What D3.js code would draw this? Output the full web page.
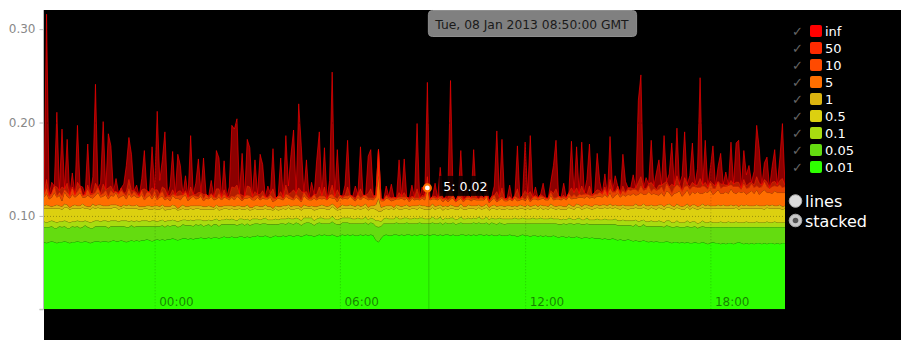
<!DOCTYPE html>
<html><head><meta charset="utf-8">
<script src="https://cdn.jsdelivr.net/npm/d3@7"></script>
<style>
html,body{margin:0;padding:0;background:#fff;}
svg{display:block;font-family:"DejaVu Sans",sans-serif;}
</style></head><body>
<svg id="c" width="901" height="347"></svg>
<script>
// ---------- DATA ----------
const startTime = "2013-01-07T20:25:00Z";
const stepMinutes = 5;
const seriesNames = ["0.01","0.05","0.1","0.5","1","5","10","50","inf"];
const seriesColors = ["#2eff00","#64dc10","#a8dc10","#dcd010","#dcb410","#ff6e00","#ff4a00","#ff2a00","#ff0000"];
const legendOrder = ["inf","50","10","5","1","0.5","0.1","0.05","0.01"];
const yTicks = [0, 0.1, 0.2, 0.3];
const modeLabels = ["lines","stacked"];
const hoverIndex = 149;
const hoverSeries = "5";
// values in thousandths, one per 5 minutes
const v001 = [
72,71,72,73,72,71,72,72,73,72,71,72,
72,73,72,72,73,72,71,72,73,73,72,73,
73,72,73,74,73,73,74,73,72,73,74,73,
74,73,74,74,75,74,73,74,75,74,75,74,
75,75,76,75,74,75,76,76,75,76,75,76,
76,77,76,76,77,76,77,77,76,77,78,77,
77,78,77,77,78,78,77,78,77,78,78,79,
78,78,79,78,77,78,79,78,78,79,78,79,
79,78,79,79,78,79,80,79,79,78,79,80,
79,80,79,79,80,79,78,79,80,79,80,79,
80,79,79,80,79,80,79,80,79,74,72,76,
79,80,79,79,80,80,79,80,79,80,80,79,
80,79,80,80,79,80,79,80,80,79,80,79,
80,80,79,80,79,79,80,80,79,80,79,80,
79,80,80,79,80,79,80,79,79,80,79,79,
79,80,79,79,78,79,80,79,79,78,79,79,
78,79,78,79,78,78,79,78,77,78,78,77,
78,77,77,78,77,76,77,77,76,77,76,76,
76,75,76,75,75,76,75,74,75,74,74,75,
74,73,74,73,73,74,73,72,73,72,73,72,
72,72,73,72,71,72,72,71,72,71,72,71,
71,72,71,71,72,71,70,71,72,71,71,70,
71,70,71,71,70,71,72,71,70,71,70,71,
70,71,71,70,71,70,71,71,70,71,70,71,
71];
const v005 = [
16,17,16,16,15,16,17,16,16,15,16,17,
16,16,15,16,17,16,16,15,16,16,17,16,
16,15,16,15,16,16,15,16,16,15,16,15,
15,16,15,15,14,15,16,15,14,15,15,14,
15,14,14,15,14,14,15,14,15,14,14,15,
14,14,13,14,14,13,14,14,13,14,13,14,
14,13,14,13,13,14,13,14,13,13,14,13,
13,14,13,13,14,13,12,13,14,13,13,14,
13,13,14,13,12,13,13,14,13,12,13,13,
13,12,13,13,14,13,13,12,13,14,13,13,
12,13,13,12,13,13,12,13,13,15,16,13,
13,12,13,13,12,13,13,12,13,13,12,13,
12,13,13,12,13,12,13,13,12,13,13,12,
13,12,13,13,12,13,13,12,13,12,13,13,
13,13,12,13,13,12,13,13,12,13,13,12,
13,12,13,13,14,13,12,13,13,14,13,13,
14,13,14,13,14,14,13,14,14,13,14,14,
14,15,14,14,15,15,14,15,15,14,15,15,
15,16,15,16,16,15,16,16,15,16,16,15,
16,16,17,16,16,17,16,17,16,17,16,17,
17,16,17,17,17,16,17,17,16,17,17,17,
17,17,16,17,17,17,18,17,16,17,17,18,
17,18,17,17,18,17,16,17,18,17,18,17,
18,17,17,18,17,18,17,17,18,17,18,17,
17];
const v01 = [
6,5,6,6,7,6,5,6,6,7,6,5,
6,6,7,6,5,6,6,7,6,6,5,6,
6,7,6,6,6,5,6,6,7,6,5,6,
6,5,6,6,6,5,6,6,5,6,6,6,
5,6,6,5,6,6,5,6,5,6,6,5,
6,5,6,5,5,6,5,6,6,5,5,6,
5,6,5,5,6,5,6,5,5,6,5,5,
5,5,6,5,5,5,6,5,5,5,6,5,
5,6,5,5,5,6,5,5,6,5,5,5,
6,5,5,5,6,5,5,6,5,5,5,6,
5,5,6,5,5,6,5,5,5,6,7,5,
5,6,5,5,5,6,5,5,6,5,5,5,
6,5,5,6,5,5,5,6,5,5,6,5,
5,5,6,5,5,5,6,5,5,6,5,5,
5,6,5,5,6,5,5,5,6,5,5,6,
5,5,5,6,5,5,6,5,5,5,6,5,
5,6,5,5,5,6,5,5,6,5,5,5,
6,5,5,5,6,5,5,6,5,5,5,6,
5,5,6,5,5,5,6,5,5,6,5,5,
5,6,5,5,6,5,5,5,6,5,5,6,
5,5,5,6,5,5,6,5,5,5,6,5,
6,5,5,5,6,5,5,6,5,5,5,6,
5,5,6,5,5,6,5,5,5,6,5,5,
5,6,5,5,5,6,5,5,6,5,5,5,
5];
const v05 = [
14,15,14,13,14,15,14,13,14,15,14,14,
14,13,14,15,13,14,14,15,13,14,14,13,
13,14,13,14,14,13,13,14,13,14,13,14,
13,13,12,13,13,13,12,13,13,12,13,12,
12,12,12,13,12,12,12,11,12,12,12,12,
12,11,12,12,11,12,11,12,11,11,12,11,
11,11,11,12,11,10,11,11,11,10,11,10,
11,10,10,11,11,10,11,10,10,11,10,11,
10,10,10,11,11,10,10,10,10,11,10,10,
10,11,10,10,10,11,10,10,10,10,10,10,
11,10,10,10,11,10,10,10,11,12,10,11,
10,10,10,11,10,10,10,10,10,10,10,11,
10,10,11,10,10,10,10,10,10,11,10,10,
10,10,10,10,11,10,10,10,10,10,11,10,
10,10,10,11,10,10,10,11,10,10,10,10,
11,10,10,10,10,11,10,10,11,10,10,11,
10,11,10,11,10,11,11,10,11,11,10,11,
11,11,11,12,11,11,12,11,12,11,12,12,
12,12,12,12,13,12,12,13,12,13,13,12,
13,13,13,14,13,13,14,13,14,14,13,14,
14,14,14,14,15,14,14,15,14,14,15,14,
15,14,15,15,14,15,15,14,15,15,15,14,
15,15,14,15,15,15,14,15,15,14,15,15,
15,14,15,15,14,15,15,15,14,15,15,14,
15];
const v1 = [
3,4,3,2,3,4,3,3,4,3,2,3,
4,3,3,4,3,2,3,4,3,3,4,3,
3,3,4,3,3,4,2,3,3,4,3,3,
4,3,3,2,3,4,3,3,4,3,3,4,
3,3,4,3,2,3,4,3,3,3,4,3,
3,4,3,3,4,3,2,3,4,3,3,3,
4,3,3,4,3,3,3,4,3,2,3,4,
3,3,4,3,3,2,3,4,3,3,4,3,
3,4,3,3,3,4,3,2,3,4,3,3,
4,3,3,4,3,3,2,3,4,3,3,4,
3,3,4,3,3,4,3,3,3,5,14,4,
3,3,4,3,2,3,4,3,3,4,3,3,
3,4,3,3,4,3,3,4,3,3,3,4,
3,3,4,3,3,3,4,3,3,4,3,3,
4,3,3,3,4,3,3,4,3,3,4,3,
3,4,3,3,3,4,3,3,4,3,3,4,
3,3,4,3,3,4,3,3,3,4,3,3,
4,3,3,4,3,3,4,3,3,3,4,3,
3,4,3,3,4,3,3,3,4,3,3,4,
3,3,4,3,3,4,3,4,3,3,4,3,
4,3,3,4,3,3,4,3,3,4,3,3,
3,4,3,3,4,3,4,3,3,3,4,3,
4,3,3,4,3,3,3,4,3,4,3,3,
3,4,3,3,4,3,3,4,3,3,4,3,
3];
const v5 = [
9,12,7,10,14,8,11,6,13,9,10,12,
8,11,14,7,9,12,10,6,11,13,8,10,
12,7,10,9,13,8,11,10,7,12,9,11,
8,10,13,7,9,11,8,12,6,10,9,7,
9,6,10,8,11,7,9,12,6,8,10,7,
8,10,6,9,7,11,8,6,10,7,9,8,
6,9,7,10,8,6,9,7,11,8,6,9,
7,9,6,8,10,7,6,9,8,6,10,7,
8,6,9,7,6,10,8,7,6,9,7,8,
6,8,7,9,6,8,7,10,6,8,7,9,
7,6,8,7,9,6,8,7,6,8,25,7,
6,8,7,5,8,6,7,9,6,7,5,8,
6,7,5,8,6,20,7,5,8,6,7,5,
7,5,6,8,5,7,6,5,8,6,5,7,
6,5,7,6,8,5,6,7,5,6,8,6,
5,7,6,8,6,5,7,6,8,5,7,6,
7,6,8,6,7,9,6,8,7,6,9,7,
8,7,9,6,8,10,7,9,8,10,7,9,
10,8,11,9,12,8,10,13,9,11,10,12,
11,13,9,12,14,10,12,15,11,13,12,10,
13,11,15,12,10,14,12,16,11,13,15,12,
14,12,16,13,11,15,13,17,12,14,16,13,
12,15,13,17,14,12,16,13,15,11,14,16,
13,16,12,15,17,13,14,12,16,14,13,15,
14];
const v10 = [
3,5,2,4,6,1,3,5,2,4,3,6,
2,4,5,1,3,6,2,4,3,5,2,3,
4,2,5,3,1,4,6,2,3,5,2,4,
3,1,4,2,5,3,2,4,1,3,5,2,
2,4,1,3,2,5,1,3,4,2,1,3,
1,3,2,4,1,2,3,1,4,2,3,1,
2,1,3,2,4,1,2,3,1,2,4,2,
1,3,2,1,2,4,1,2,3,1,2,3,
2,1,3,2,1,3,2,1,2,4,1,2,
3,2,1,2,4,1,3,2,1,2,3,1,
2,1,3,2,1,3,2,1,2,1,27,2,
1,2,1,3,2,1,2,1,3,1,2,1,
2,1,2,1,3,2,1,2,1,2,1,3,
1,2,1,2,1,3,1,2,1,2,3,1,
2,1,3,1,2,1,2,3,1,2,1,2,
1,2,1,2,3,1,2,1,2,1,2,3,
2,3,1,2,1,3,2,1,3,2,1,2,
3,2,4,1,3,2,4,2,3,1,4,2,
4,3,5,2,4,6,3,5,2,4,3,5,
5,4,6,3,7,4,5,6,3,5,4,6,
6,4,7,5,3,6,8,4,5,7,4,6,
5,7,4,6,8,5,3,7,6,4,8,5,
7,5,8,4,6,7,5,3,8,6,5,7,
6,4,7,5,8,6,4,7,5,6,8,5,
6];
const v50 = [
1,10,2,0,1,10,2,10,1,10,0,2,
1,10,2,1,0,5,2,1,10,0,2,10,
1,10,5,2,0,1,3,0,5,10,5,1,
2,0,1,10,2,0,10,1,10,0,5,10,
1,2,5,0,5,5,1,2,0,10,1,2,
5,1,5,0,2,1,0,10,5,1,5,0,
2,10,10,10,1,5,0,10,10,2,5,1,
5,5,0,1,2,10,1,0,5,2,10,1,
5,10,1,10,10,0,5,2,1,0,5,10,
1,10,0,2,10,1,10,0,2,1,10,0,
1,2,0,10,1,0,5,10,2,1,0,1,
0,1,2,0,1,0,5,1,5,0,2,1,
1,10,0,2,1,10,0,1,2,0,5,1,
0,2,10,1,0,2,5,0,1,2,0,10,
1,0,2,1,0,1,2,0,10,1,10,0,
2,1,0,1,10,0,2,10,1,10,0,1,
0,2,1,0,1,2,5,10,0,1,2,0,
1,10,2,10,1,10,2,0,10,1,2,5,
2,1,3,0,10,2,1,3,2,5,1,2,
3,1,2,10,10,3,1,2,10,3,1,5,
2,10,3,1,10,2,10,3,1,10,2,3,
5,2,3,10,1,5,3,2,5,3,1,5,
3,2,1,5,3,5,5,2,5,3,5,2,
3,10,5,2,3,5,1,5,5,2,5,10,
2];
const vInf = [
0,177,0,12,0,80,0,62,0,47,0,15,
0,61,0,9,0,44,0,18,106,0,11,67,
0,58,43,0,14,0,0,10,28,45,39,0,
8,0,12,41,0,0,44,0,84,15,29,61,
0,10,41,0,40,27,0,16,0,55,0,12,
36,0,39,0,0,14,0,41,33,0,31,0,
10,66,63,71,0,45,0,50,42,0,34,0,
43,28,0,12,0,43,0,0,36,0,53,9,
41,64,0,90,49,0,34,0,16,0,37,59,
0,42,0,14,121,0,43,0,0,11,50,0,
0,13,0,45,0,0,40,42,0,0,0,0,
0,10,0,15,0,0,35,0,36,0,0,12,
0,70,0,9,0,101,0,0,14,0,27,0,
0,11,116,0,0,0,45,0,12,0,0,42,
0,8,0,0,13,0,0,10,65,0,52,0,
0,12,0,0,46,0,0,52,0,60,0,9,
0,0,14,0,0,10,30,52,0,0,13,0,
0,50,0,44,0,47,0,16,45,0,0,39,
10,0,14,0,46,0,17,0,0,34,12,0,
0,15,0,88,109,0,12,0,45,0,18,27,
0,51,0,14,44,0,51,0,16,49,0,12,
42,0,18,108,0,45,0,15,41,0,16,33,
0,14,0,41,0,42,45,0,31,12,19,0,
15,55,37,0,18,27,0,17,34,0,24,59,
0];
const valueArrays = [v001, v005, v01, v05, v1, v5, v10, v50, vInf];

// ---------- CHART ----------
const W = 901, H = 347;
const pLeft = 44, pRight = 785, pTop = 10, pBottom = 309.3;
const svg = d3.select("#c");
svg.append("rect").attr("x", pLeft).attr("y", pTop).attr("width", W - pLeft).attr("height", 330).attr("fill", "#000");

const n = d3.min(valueArrays, a => a.length);
const t0 = new Date(startTime);
const times = d3.range(n).map(i => new Date(+t0 + i * stepMinutes * 60000));
const rows = times.map((t, i) => {
  const r = { t };
  seriesNames.forEach((k, j) => r[k] = valueArrays[j][i] / 1000);
  return r;
});

const x = d3.scaleUtc().domain(d3.extent(times)).range([pLeft, pRight]);
const y = d3.scaleLinear().domain([0, 0.3205]).range([pBottom, pTop]);
const layers = d3.stack().keys(seriesNames)(rows);

svg.append("defs").append("clipPath").attr("id", "clip")
  .append("rect").attr("x", pLeft).attr("y", pTop).attr("width", pRight - pLeft).attr("height", pBottom - pTop);
const plot = svg.append("g").attr("clip-path", "url(#clip)");

const area = d3.area().x((d, i) => x(times[i])).y0(d => y(d[0])).y1(d => y(d[1]));
const line = d3.line().x((d, i) => x(times[i])).y(d => y(d[1]));
const fillOpacity = [1, 1, 1, 1, 1, 1, 0.9, 0.7, 0.55];
layers.forEach((L, j) => {
  const spiky = j >= 6;
  plot.append("path").datum(L).attr("d", area).attr("fill", seriesColors[j])
    .attr("fill-opacity", fillOpacity[j]);
  plot.append("path").datum(L).attr("d", line).attr("fill", "none")
    .attr("stroke", spiky ? seriesColors[j] : d3.color(seriesColors[j]).darker(1.4))
    .attr("stroke-width", spiky ? 0.8 : 1)
    .attr("stroke-opacity", spiky ? 0.8 : 0.75);
});

// grid (above data)
const xGrid = svg.append("g").attr("transform", `translate(0,${pBottom})`)
  .call(d3.axisBottom(x).ticks(d3.utcHour.every(6)).tickFormat(d3.utcFormat("%H:%M")).tickSize(-(pBottom - pTop)));
xGrid.select(".domain").remove();
xGrid.selectAll("line").attr("stroke", "#000").attr("stroke-opacity", 0.22).attr("stroke-dasharray", "1,2");
xGrid.selectAll("text").attr("text-anchor", "start").attr("x", 4).attr("y", -3).attr("dy", 0)
  .attr("fill", "#000").attr("fill-opacity", 0.5).style("font-size", "12px").style("font-family", "DejaVu Sans");

const yGrid = svg.append("g").attr("transform", `translate(${pLeft},0)`)
  .call(d3.axisLeft(y).tickValues(yTicks.filter(v => v > 0)).tickFormat("").tickSize(-(pRight - pLeft)));
yGrid.select(".domain").remove();
yGrid.selectAll("line").attr("stroke", "#000").attr("stroke-opacity", 0.3).attr("stroke-dasharray", "1,2");

// y axis
const yAxis = svg.append("g").attr("transform", `translate(${pLeft - 0.5},0)`)
  .call(d3.axisLeft(y).tickValues(yTicks).tickFormat(v => v === 0 ? "" : d3.format(".2f")(v)).tickSize(4).tickPadding(4));
yAxis.select(".domain").attr("stroke", "#bbb").attr("d", `M-4,${pBottom}H0V${pTop}`);
yAxis.selectAll("line").attr("stroke", "#bbb");
yAxis.selectAll("text").attr("fill", "#888").style("font-size", "12px").style("font-family", "DejaVu Sans");

// crosshair + hover
const hx = x(times[hoverIndex]);
svg.append("line").attr("x1", hx + 1.5).attr("x2", hx + 1.5).attr("y1", pTop).attr("y2", pBottom)
  .attr("stroke", "#000").attr("stroke-opacity", 0.18);
const hj = seriesNames.indexOf(hoverSeries);
const hy = y(layers[hj][hoverIndex][1]);
svg.append("rect").attr("x", hx + 12).attr("y", hy - 12).attr("width", 52).attr("height", 20).attr("fill", "#000").attr("fill-opacity", 0.85);
svg.append("text").attr("x", hx + 16).attr("y", hy + 3.5).attr("fill", "#fff").style("font-size", "12.5px")
  .text(`${hoverSeries}: ${d3.format(".2f")(rows[hoverIndex][hoverSeries])}`);
svg.append("circle").attr("cx", hx).attr("cy", hy).attr("r", 3.5).attr("fill", "#fff")
  .attr("stroke", seriesColors[hj]).attr("stroke-width", 2.2);

// top tooltip
const tipText = d3.utcFormat("%a, %d %b %Y %H:%M:%S GMT")(times[hoverIndex]);
const tipG = svg.append("g");
const tipRect = tipG.append("rect").attr("x", hx + 1).attr("y", 10.5).attr("height", 26).attr("rx", 4)
  .attr("fill", "#808080").attr("stroke", "#8e8e8e");
const tipT = tipG.append("text").attr("x", hx + 8).attr("y", 28.5).attr("fill", "#1a1a1a")
  .style("font-size", "12.3px").text(tipText);
const tw = tipT.node().getComputedTextLength();
tipRect.attr("width", tw + 15);

// legend
const leg = svg.append("g");
legendOrder.forEach((name, k) => {
  const cy = 31 + 17 * k;
  const c = seriesColors[seriesNames.indexOf(name)];
  leg.append("text").attr("x", 792).attr("y", cy + 5).attr("fill", "#666").style("font-size", "13px").text("\u2713");
  leg.append("rect").attr("x", 810).attr("y", cy - 6).attr("width", 12).attr("height", 12).attr("rx", 2).attr("fill", c);
  leg.append("text").attr("x", 825).attr("y", cy + 5).attr("fill", "#fff").style("font-size", "13px").text(name);
});
modeLabels.forEach((name, k) => {
  const cy = 201 + 19.5 * k;
  leg.append("circle").attr("cx", 795.5).attr("cy", cy).attr("r", 6.3)
    .attr("fill", k === 1 ? "#c8c8c8" : "#dcdcdc").attr("stroke", "#aaa");
  if (k === 1) leg.append("circle").attr("cx", 795.5).attr("cy", cy).attr("r", 2.8).attr("fill", "#555");
  leg.append("text").attr("x", 805).attr("y", cy + 6).attr("fill", "#fff").style("font-size", "16px").text(name);
});
</script>
</body></html>
